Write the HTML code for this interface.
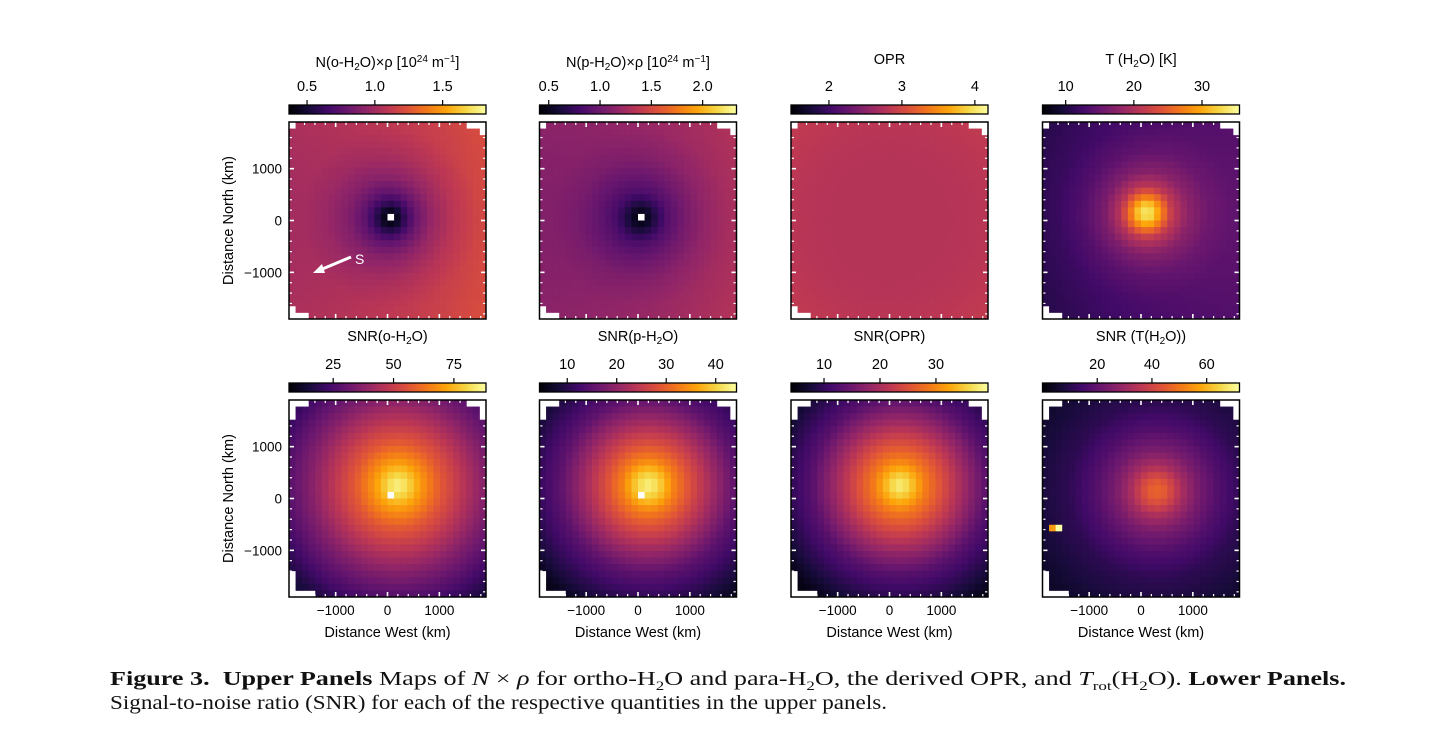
<!DOCTYPE html>
<html><head><meta charset="utf-8">
<style>
body{margin:0;background:#fff;width:1456px;height:747px;overflow:hidden;position:relative}
svg{position:absolute;left:0;top:0}
.cap{position:absolute;left:110px;font-family:"Liberation Serif",serif;font-size:20px;color:#111;white-space:nowrap;transform-origin:0 0}
</style></head><body>
<svg id="fig" width="1456" height="747" xmlns="http://www.w3.org/2000/svg" font-family="Liberation Sans, sans-serif"></svg>
<div class="cap" id="cap1" style="top:668px"><b>Figure 3. &nbsp;Upper Panels</b> Maps of <i>N</i> × <i>ρ</i> for ortho-H<sub style="font-size:13px">2</sub>O and para-H<sub style="font-size:13px">2</sub>O, the derived OPR, and <i>T</i><sub style="font-size:13px">rot</sub>(H<sub style="font-size:13px">2</sub>O). <b>Lower Panels.</b></div>
<div class="cap" id="cap2" style="top:692px">Signal-to-noise ratio (SNR) for each of the respective quantities in the upper panels.</div>
<script>
// ---- data (per panel) ----
const panelTitles = ["N(o-H<sub>2</sub>O)×ρ [10<sup>24</sup> m<sup>−1</sup>]","N(p-H<sub>2</sub>O)×ρ [10<sup>24</sup> m<sup>−1</sup>]","OPR","T (H<sub>2</sub>O) [K]","SNR(o-H<sub>2</sub>O)","SNR(p-H<sub>2</sub>O)","SNR(OPR)","SNR (T(H<sub>2</sub>O))"];
const cbMin = [0.367,0.41,1.48,6.6,6.7,4.4,4.1,0];
const cbMax = [1.82,2.33,4.18,35.5,88.3,44.2,39.3,72];
const cbTicks = [[0.5,1.0,1.5],[0.5,1.0,1.5,2.0],[2,3,4],[10,20,30],[25,50,75],[10,20,30,40],[10,20,30],[20,40,60]];
const cbTickLabels = [["0.5","1.0","1.5"],["0.5","1.0","1.5","2.0"],["2","3","4"],["10","20","30"],["25","50","75"],["10","20","30","40"],["10","20","30"],["20","40","60"]];
const profileR = [0,150,300,500,800,1200,1700,2700];
const profileV = [
 [0.37,0.45,0.62,0.78,0.92,1.02,1.09,1.13],
 [0.41,0.52,0.68,0.85,0.98,1.1,1.18,1.24],
 [2.78,2.78,2.78,2.78,2.78,2.78,2.8,2.88],
 [34,32,27,21,17,14.5,13,12],
 [86,82,76,68,58,48,36,15],
 [43,41,38,33,28,22,15,6],
 [38,36,33,29,25,19.5,13,5],
 [47,45,40,32,24,17,11,5]
];
const centerX = [60,60,0,100,200,200,200,300];
const centerY = [50,50,0,150,250,250,250,150];
const gradX = [0.05,0.05,0,0.8,0,0,0,0];
const nanCol = [15,15,-1,-1,15,15,-1,-1];
const nanRow = [14,14,-1,-1,14,14,-1,-1];
const outlierCol = [1,2];
const outlierRow = [19,19];
const outlierVal = [56,72];
const axisTicks = [-1000,0,1000];
const axisTickLabels = ["−1000","0","1000"];
const maskTop = [[0,0],[27,0],[28,0],[29,0],[29,1],[0,28],[0,29],[1,29],[2,29]];
const maskBot = [[0,0],[1,0],[2,0],[0,1],[0,2],[27,0],[28,0],[29,0],[29,1],[29,2],[0,26],[0,27],[0,28],[0,29],[1,29],[2,29],[3,29]];

// ---- layout ----
const N=30, EXT=1900, PW=197;
const lefts=[289,539.5,791,1042.5], tops=[122,400];
const svg=document.getElementById('fig');
const NS='http://www.w3.org/2000/svg';
function mk(tag,attrs,parent){const e=document.createElementNS(NS,tag);for(const k in attrs)e.setAttribute(k,attrs[k]);(parent||svg).appendChild(e);return e;}
const stops=[[0,0,4],[22,11,57],[66,10,104],[106,23,110],[147,38,103],[188,55,84],[221,81,58],[243,120,25],[252,165,10],[246,215,70],[252,255,164]];
function inferno(t){t=Math.max(0,Math.min(1,t))*10;const i=Math.min(9,Math.floor(t)),f=t-i,a=stops[i],b=stops[i+1];return `rgb(${Math.round(a[0]+(b[0]-a[0])*f)},${Math.round(a[1]+(b[1]-a[1])*f)},${Math.round(a[2]+(b[2]-a[2])*f)})`;}
function interp(r,vals){for(let i=0;i<profileR.length-1;i++){if(r<=profileR[i+1]){const f=(r-profileR[i])/(profileR[i+1]-profileR[i]);return vals[i]+(vals[i+1]-vals[i])*f;}}return vals[vals.length-1];}

for(let p=0;p<8;p++){
 const row=p<4?0:1, L=lefts[p%4], T=tops[row];
 const xs=v=>L+(v+EXT)/(2*EXT)*PW, ys=v=>T+(EXT-v)/(2*EXT)*PW;
 const cs=v=>L+(v-cbMin[p])/(cbMax[p]-cbMin[p])*PW;
 const g=mk('g',{});
 
 
 const mask=row?maskBot:maskTop, cell=PW/N, km=2*EXT/N;
 for(let j=0;j<N;j++)for(let i=0;i<N;i++){
  if(mask.some(m=>m[0]===i&&m[1]===j))continue;
  const x=-EXT+(i+0.5)*km, y=EXT-(j+0.5)*km;
  const r=Math.hypot(x-centerX[p],y-centerY[p]);
  let v=interp(r,profileV[p])+gradX[p]*x/1000;
  let col=inferno((v-cbMin[p])/(cbMax[p]-cbMin[p]));
  if(i===nanCol[p]&&j===nanRow[p])col='#fff';
  if(p===7){const k=outlierCol.findIndex((c,ii)=>c===i&&outlierRow[ii]===j);if(k>=0)col=inferno((outlierVal[k]-cbMin[p])/(cbMax[p]-cbMin[p]));}
  const c=mk('rect',{x:(L+i*cell).toFixed(2),y:(T+j*cell).toFixed(2),width:(cell+0.4).toFixed(2),height:(cell+0.4).toFixed(2),fill:col},g);
  
  
 }
 for(let v=-1800;v<=1800;v+=200){
  const maj=v%1000===0, len=maj?5:3, w=maj?1.6:1.2;
  mk('line',{x1:xs(v),x2:xs(v),y1:T,y2:T+len,stroke:'#fff','stroke-width':w},g);
  mk('line',{x1:xs(v),x2:xs(v),y1:T+PW,y2:T+PW-len,stroke:'#fff','stroke-width':w},g);
  mk('line',{y1:ys(v),y2:ys(v),x1:L,x2:L+len,stroke:'#fff','stroke-width':w},g);
  mk('line',{y1:ys(v),y2:ys(v),x1:L+PW,x2:L+PW-len,stroke:'#fff','stroke-width':w},g);
 }
 const fr=mk('rect',{x:L,y:T,width:PW,height:PW,fill:'none',stroke:'#000','stroke-width':1.5},g);
 
 
 const cbY=row?383:105;
 const gid='cb'+p, lg=mk('linearGradient',{id:gid},svg);
 for(let k=0;k<=10;k++)mk('stop',{offset:k/10,'stop-color':inferno(k/10)},lg);
 const cb=mk('rect',{x:L,y:cbY,width:PW,height:9,fill:`url(#${gid})`,stroke:'#000','stroke-width':1.3},g);
 
 
 cbTicks[p].forEach((t,k)=>{
  mk('line',{x1:cs(t),x2:cs(t),y1:cbY-5,y2:cbY,stroke:'#000','stroke-width':1.2},g);
  const tl=mk('text',{x:cs(t),y:cbY-14,'text-anchor':'middle','font-size':14.5},g);
  tl.textContent=cbTickLabels[p][k];
  
  
 });
 const fo=mk('foreignObject',{x:L-40,y:row?328:51,width:PW+80,height:22},g);
 fo.innerHTML=`<div xmlns="http://www.w3.org/1999/xhtml" style="text-align:center;font:14.5px 'Liberation Sans',sans-serif;line-height:18px;white-space:nowrap">${panelTitles[p].replace(/<sub>/g,'<sub style="font-size:10px;vertical-align:-3px">').replace(/<sup>/g,'<sup style="font-size:10px;vertical-align:5px">')}</div>`;
 if(p%4===0){
  axisTicks.forEach((t,k)=>{
   const tl=mk('text',{x:L-7,y:ys(t)+5,'text-anchor':'end','font-size':13.5},g);
   tl.textContent=axisTickLabels[k];
   
   
  });
  const yt=mk('text',{x:0,y:0,transform:`translate(233,${T+PW/2}) rotate(-90)`,'text-anchor':'middle','font-size':14.5},g);
  yt.textContent='Distance North (km)';
  
  
 }
 if(row===1){
  axisTicks.forEach((t,k)=>{
   const tl=mk('text',{x:xs(t),y:T+PW+18,'text-anchor':'middle','font-size':13.5},g);
   tl.textContent=axisTickLabels[k];
   
   
  });
  const xt=mk('text',{x:L+PW/2,y:T+PW+40,'text-anchor':'middle','font-size':14.5},g);
  xt.textContent='Distance West (km)';
  
  
 }
}
const ar=mk('g',{});


mk('line',{x1:351,y1:257,x2:320,y2:270,stroke:'#fff','stroke-width':3},ar);
mk('polygon',{points:'313,273 322,264 325,273',fill:'#fff'},ar);
const st=mk('text',{x:355,y:264,'font-size':14,fill:'#fff'},ar);
st.textContent='S';
// fit caption widths
[['cap1',1236],['cap2',777]].forEach(([id,w])=>{const e=document.getElementById(id);const cw=e.getBoundingClientRect().width;e.style.transform=`scaleX(${w/cw})`;});
</script>
</body></html>
